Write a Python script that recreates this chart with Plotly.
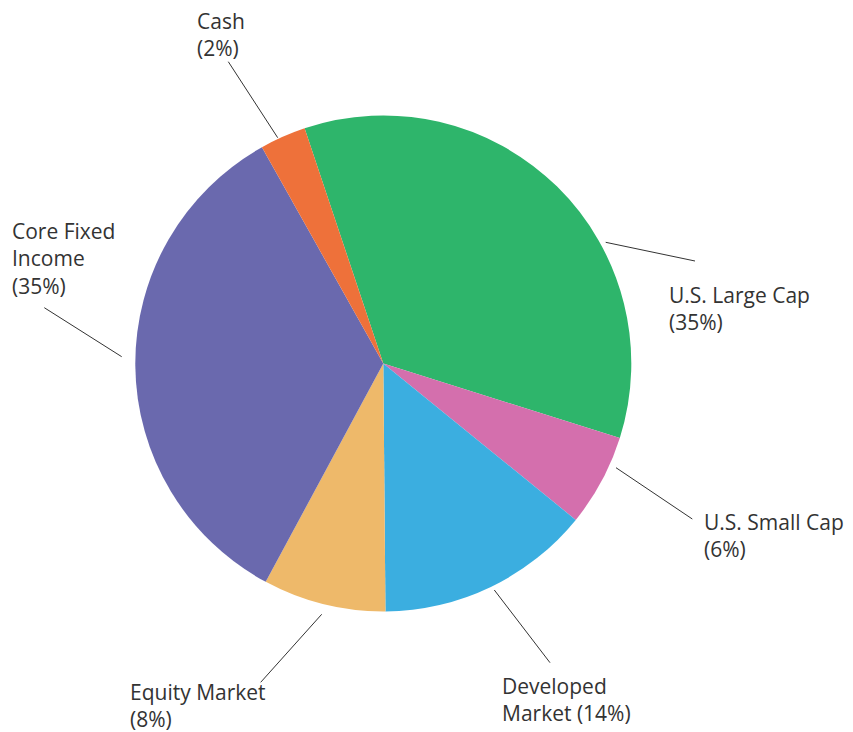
import plotly.graph_objects as go

# ---- data ----
categories = ["U.S. Large Cap", "U.S. Small Cap", "Developed Market", "Equity Market",
              "Core Fixed Income", "Cash"]
values = [35, 6, 14, 8, 34, 3]
label_texts = ["U.S. Large Cap<br>(35%)", "U.S. Small Cap<br>(6%)", "Developed<br>Market (14%)",
               "Equity Market<br>(8%)", "Core Fixed<br>Income<br>(35%)", "Cash<br>(2%)"]
colors = ["#2EB56B", "#D46FAD", "#3BAEE0", "#EEB96A", "#6A69AE", "#EE713A"]

W, H = 853, 732
OFF = 8  # page body margin
cx, cy, R = 383.3, 363.5, 248

# label layout (pixels): text top-left, leader line (x0,y0,x1,y1)
label_pos = [(667, 279), (702, 506), (500, 670), (128, 676), (10, 215), (195, 5)]
leader = [(605.7, 242.3, 695, 261), (616, 467.7, 692.3, 519), (494.3, 590, 550, 662.7),
          (321.7, 614.3, 260.7, 682.3), (44.3, 307.7, 121.7, 356.7), (228.3, 61.7, 277.7, 137.7)]


def fx(px):
    return (px - OFF) / W


def fy(py):
    return 1 - (py - OFF) / H


fig = go.Figure(go.Pie(
    labels=categories, values=values, sort=False, direction="clockwise",
    rotation=-18.5, textinfo="none", hoverinfo="label+percent",
    marker=dict(colors=colors, line=dict(width=0)),
    domain=dict(x=[fx(cx - R), fx(cx + R)], y=[fy(cy + R), fy(cy - R)]),
    showlegend=False,
))

font = dict(family="Open Sans, Poppins, sans-serif", size=21, color="#333333")
for txt, (px, py) in zip(label_texts, label_pos):
    fig.add_annotation(text=txt, x=fx(px), y=fy(py), xref="paper", yref="paper",
                       xanchor="left", yanchor="top", align="left", showarrow=False, font=font)
for (x0, y0, x1, y1) in leader:
    fig.add_shape(type="line", xref="paper", yref="paper", x0=fx(x0), y0=fy(y0),
                  x1=fx(x1), y1=fy(y1), line=dict(color="#333333", width=1))

fig.update_layout(width=W, height=H, margin=dict(l=0, r=0, t=0, b=0),
                  paper_bgcolor="white", plot_bgcolor="white")
fig.write_html("out.html")
